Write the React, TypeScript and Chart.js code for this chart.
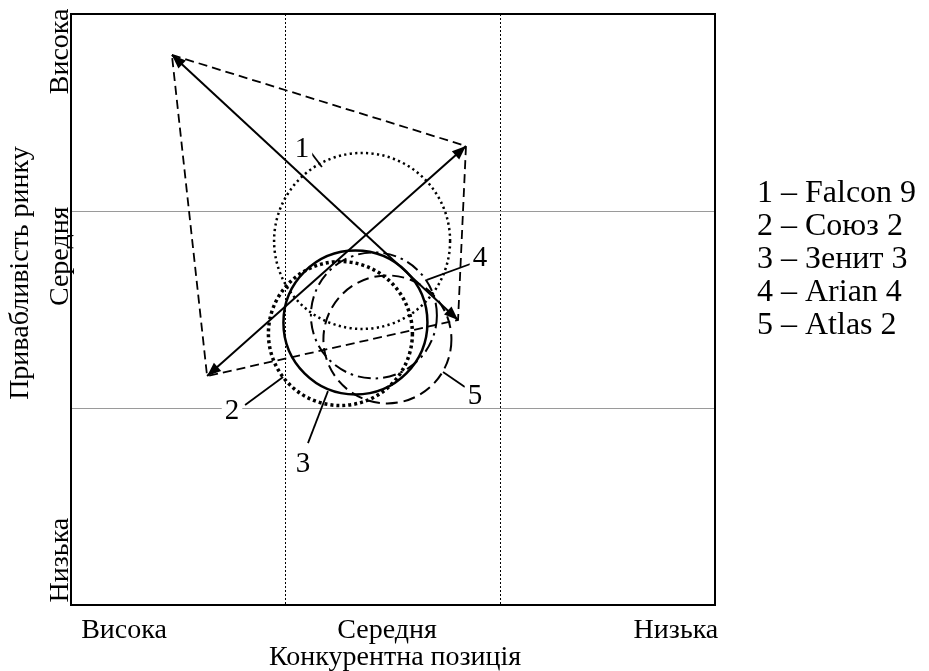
import React, { useEffect, useRef } from 'react';
import { Chart, registerables } from 'chart.js';

Chart.register(...registerables);

const FONT = '"Liberation Serif", "Times New Roman", serif';

// ---- axes (categories on a 0..3 scale) ----
const xTickValues = [0.247, 1, 1.472, 2, 2.818];
const xTickLabels = ['Висока', '', 'Середня', '', 'Низька'];
const xGridValues = [1, 2];
const yTickValues = [0.228, 1, 1.77, 2, 2.81];
const yTickLabels = ['Низька', '', 'Середня', '', 'Висока'];
const yGridValues = [1, 2];
const xTitle = 'Конкурентна позиція';
const xTitlePos = 1.51;
const yTitle = 'Привабливість ринку';
const yTitlePos = 1.685;

// ---- dashed quadrilateral ----
const quadX = [0.47, 1.84, 1.803, 0.634, 0.47];
const quadY = [2.792, 2.33, 1.447, 1.162, 2.792];

// ---- double-headed arrows ----
const arrowAX = [0.47, 1.803];
const arrowAY = [2.792, 1.447];
const arrowBX = [0.634, 1.84];
const arrowBY = [1.162, 2.33];

// ---- circles (positions of launch vehicles) ----
const circleX = [1.356, 1.255, 1.325, 1.411, 1.474];
const circleY = [1.848, 1.378, 1.434, 1.47, 1.348];
const circleR = [88, 72, 72, 63, 64];

// ---- number labels with leader lines ----
const numberLabels = ['1', '2', '3', '4', '5'];
const labelX = [1.076, 0.75, 1.081, 1.905, 1.882];
const labelY = [2.32, 0.99, 0.721, 1.766, 1.066];
const leaderStartX = [1.109, 0.811, 1.104, 1.873, 1.835];
const leaderStartY = [2.31, 1.015, 0.822, 1.736, 1.107];
const leaderEndX = [1.169, 0.988, 1.197, 1.658, 1.733];
const leaderEndY = [2.223, 1.157, 1.086, 1.65, 1.183];

// ---- legend ----
const legendLabels = ['1 – Falcon 9', '2 – Союз 2', '3 – Зенит 3', '4 – Arian 4', '5 – Atlas 2'];

const circleStyles = [
  { width: 2.5, dash: [2.2, 3.3] },
  { width: 3.5, dash: [3, 3] },
  { width: 2.5, dash: [] as number[] },
  { width: 2, dash: [13, 5, 2.5, 5] },
  { width: 2, dash: [12, 6] },
];

function drawHead(ctx: CanvasRenderingContext2D, tip: any, from: any, len: number, half: number) {
  const ang = Math.atan2(tip.y - from.y, tip.x - from.x);
  const bx = tip.x - len * Math.cos(ang);
  const by = tip.y - len * Math.sin(ang);
  ctx.beginPath();
  ctx.moveTo(tip.x, tip.y);
  ctx.lineTo(bx + half * Math.sin(ang), by - half * Math.cos(ang));
  ctx.lineTo(bx - half * Math.sin(ang), by + half * Math.cos(ang));
  ctx.closePath();
  ctx.fill();
}

const customPlugin = {
  id: 'customDraw',
  beforeDatasetDraw(chart: any, args: any) {
    const ds = chart.data.datasets[args.index];
    if (ds.circleDash) {
      chart.ctx.save();
      chart.ctx.setLineDash(ds.circleDash);
    }
  },
  afterDatasetDraw(chart: any, args: any) {
    const ds = chart.data.datasets[args.index];
    const ctx = chart.ctx as CanvasRenderingContext2D;
    if (ds.circleDash) ctx.restore();
    if (ds.arrowHeads) {
      const pts = chart.getDatasetMeta(args.index).data;
      const a = pts[0];
      const b = pts[pts.length - 1];
      ctx.save();
      ctx.fillStyle = '#000';
      drawHead(ctx, a, b, 14, 5.5);
      drawHead(ctx, b, a, 14, 5.5);
      ctx.restore();
    }
  },
  afterDatasetsDraw(chart: any) {
    const ctx = chart.ctx as CanvasRenderingContext2D;
    const xs = chart.scales.x;
    const ys = chart.scales.y;
    ctx.save();
    ctx.font = `29px ${FONT}`;
    ctx.textAlign = 'center';
    ctx.textBaseline = 'middle';
    numberLabels.forEach((t, i) => {
      const px = xs.getPixelForValue(labelX[i]);
      const py = ys.getPixelForValue(labelY[i]);
      const w = ctx.measureText(t).width;
      ctx.fillStyle = '#fff';
      ctx.fillRect(px - w / 2 - 3, py - 12, w + 6, 24);
      ctx.fillStyle = '#000';
      ctx.fillText(t, px, py + 1);
    });
    ctx.restore();
  },
  afterDraw(chart: any) {
    const ctx = chart.ctx as CanvasRenderingContext2D;
    const { left, right, top, bottom } = chart.chartArea;
    const xs = chart.scales.x;
    const ys = chart.scales.y;
    ctx.save();
    // frame
    ctx.strokeStyle = '#000';
    ctx.lineWidth = 2;
    ctx.strokeRect(left, top, right - left, bottom - top);
    // y tick labels (rotated)
    ctx.fillStyle = '#000';
    ctx.font = `28px ${FONT}`;
    ctx.textAlign = 'center';
    ctx.textBaseline = 'middle';
    yTickValues.forEach((v, i) => {
      if (!yTickLabels[i]) return;
      ctx.save();
      ctx.translate(left - 10, ys.getPixelForValue(v));
      ctx.rotate(-Math.PI / 2);
      ctx.fillText(yTickLabels[i], 0, 0);
      ctx.restore();
    });
    // y title
    ctx.save();
    ctx.translate(left - 50, ys.getPixelForValue(yTitlePos));
    ctx.rotate(-Math.PI / 2);
    ctx.fillText(yTitle, 0, 0);
    ctx.restore();
    // x title
    ctx.fillText(xTitle, xs.getPixelForValue(xTitlePos), bottom + 53);
    // legend
    ctx.font = `32px ${FONT}`;
    ctx.textAlign = 'left';
    legendLabels.forEach((t, i) => {
      ctx.fillText(t, right + 42, top + 180 + i * 33);
    });
    ctx.restore();
  },
};

export default function App() {
  const ref = useRef<HTMLCanvasElement | null>(null);

  useEffect(() => {
    if (!ref.current) return;
    const datasets: any[] = [];

    datasets.push({
      type: 'line',
      data: quadX.map((x, i) => ({ x, y: quadY[i] })),
      borderColor: '#000',
      borderWidth: 1.8,
      borderDash: [9, 5],
      pointRadius: 0,
      fill: false,
      tension: 0,
    });
    [
      [arrowAX, arrowAY],
      [arrowBX, arrowBY],
    ].forEach(([ax, ay]) => {
      datasets.push({
        type: 'line',
        data: ax.map((x, i) => ({ x, y: ay[i] })),
        borderColor: '#000',
        borderWidth: 2,
        pointRadius: 0,
        fill: false,
        tension: 0,
        arrowHeads: true,
      });
    });
    leaderStartX.forEach((sx, i) => {
      datasets.push({
        type: 'line',
        data: [
          { x: sx, y: leaderStartY[i] },
          { x: leaderEndX[i], y: leaderEndY[i] },
        ],
        borderColor: '#000',
        borderWidth: 1.8,
        pointRadius: 0,
        fill: false,
        tension: 0,
      });
    });
    circleX.forEach((cx, i) => {
      datasets.push({
        type: 'bubble',
        label: legendLabels[i],
        data: [{ x: cx, y: circleY[i], r: circleR[i] }],
        backgroundColor: 'rgba(0,0,0,0)',
        borderColor: '#000',
        borderWidth: circleStyles[i].width,
        hoverRadius: 0,
        circleDash: circleStyles[i].dash.length ? circleStyles[i].dash : [],
      });
    });

    const chart = new Chart(ref.current, {
      type: 'scatter',
      data: { datasets },
      plugins: [customPlugin],
      options: {
        animation: false,
        responsive: true,
        maintainAspectRatio: false,
        events: [],
        layout: { autoPadding: false, padding: { top: 14, right: 214, left: 0, bottom: 0 } },
        plugins: { legend: { display: false }, tooltip: { enabled: false } },
        scales: {
          x: {
            type: 'linear',
            min: 0,
            max: 3,
            afterBuildTicks: (scale: any) => {
              scale.ticks = xTickValues.map((v) => ({ value: v }));
            },
            afterFit: (scale: any) => {
              scale.height = 66;
            },
            grid: {
              drawTicks: false,
              color: (c: any) => (c.tick && xGridValues.includes(c.tick.value) ? '#000' : 'rgba(0,0,0,0)'),
              lineWidth: 1,
            },
            border: { display: false, dash: [2, 2] },
            ticks: {
              autoSkip: false,
              maxRotation: 0,
              padding: 9,
              color: '#000',
              font: { family: FONT, size: 28 },
              callback: (_v: any, i: number) => xTickLabels[i],
            },
          },
          y: {
            type: 'linear',
            min: 0,
            max: 3,
            afterBuildTicks: (scale: any) => {
              scale.ticks = yTickValues.map((v) => ({ value: v }));
            },
            afterFit: (scale: any) => {
              scale.width = 71;
            },
            grid: {
              drawTicks: false,
              color: (c: any) => (c.tick && yGridValues.includes(c.tick.value) ? '#9a9a9a' : 'rgba(0,0,0,0)'),
              lineWidth: 1,
            },
            border: { display: false },
            ticks: { display: false },
          },
        },
      } as any,
    });
    return () => chart.destroy();
  }, []);

  return (
    <div style={{ position: 'fixed', left: 0, top: 0, width: 929, height: 671, background: '#fff' }}>
      <canvas ref={ref} />
    </div>
  );
}
